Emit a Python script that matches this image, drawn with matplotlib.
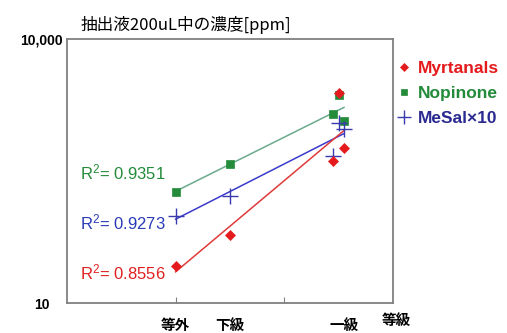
import matplotlib
matplotlib.use("Agg")
import matplotlib.pyplot as plt
import numpy as np

plt.rcParams['font.family'] = ['Liberation Sans', 'Noto Sans CJK JP', 'DejaVu Sans']
plt.rcParams['mathtext.fontset'] = 'custom'
plt.rcParams['mathtext.rm'] = 'Liberation Sans'
plt.rcParams['mathtext.it'] = 'Liberation Sans'

# sample positions along the grade axis (等外, 下級, 一級 x3)
sample_x = [1.0, 1.5, 2.45, 2.50, 2.55]
myrtanals = [26.5, 59, 411, 2434, 573]
nopinone = [184, 377, 1393, 2311, 1180]
mesal_x10 = [98, 166, 472, 1102, 942]

grade_labels = ['等外', '下級', '一級']
grade_label_x = [1.0, 1.5, 2.55]
r2_labels = ['0.9351', '0.9273', '0.8556']

red, green, blue = '#e41a1c', '#238b3a', '#3a3ab0'
line_cols = ['#6aaa8c', '#3a3acc', '#e03a3a']

fig = plt.figure(figsize=(5.07, 3.33), dpi=100)
ax = fig.add_axes([0.132, 0.090, 0.643, 0.793])
ax.set_yscale('log')
ax.set_ylim(10, 10000)
ax.set_xlim(0, 3)

series = [
    (nopinone, 's', green, 'Nopinone', 6),
    (mesal_x10, '+', blue, 'MeSal×10', 12),
    (myrtanals, 'D', red, 'Myrtanals', 4.8),
]

# exponential trendlines (linear fit on log10 values)
xs = np.array(sample_x)
xfit = np.linspace(1.0, 2.55, 50)
for (vals, _, _, _, _), lc in zip(series, line_cols):
    k, b = np.polyfit(xs, np.log10(vals), 1)
    ax.plot(xfit, 10 ** (k * xfit + b), color=lc, lw=1.1, zorder=2)

handles = {}
for vals, mk, col, name, ms in series:
    h, = ax.plot(sample_x, vals, linestyle='none', marker=mk, color=col,
                 markersize=ms, markeredgewidth=1.0 if mk == '+' else 0.5, zorder=3)
    handles[name] = h

for sp in ax.spines.values():
    sp.set_color('#808080')
    sp.set_linewidth(1.3)

ax.set_yticks([10, 10000])
ax.set_yticklabels(['10', '10,000'], fontsize=10, fontweight='bold')
ax.yaxis.set_minor_locator(matplotlib.ticker.NullLocator())
ax.tick_params(axis='y', length=0, pad=18)
for t in ax.get_yticklabels():
    t.set_horizontalalignment('center')

ax.set_xticks([1, 2])
ax.set_xticklabels([])
ax.tick_params(axis='x', direction='in', length=4, color='#808080')
for lab, gx in zip(grade_labels, grade_label_x):
    ax.text(gx, -0.085, lab, transform=ax.get_xaxis_transform(), ha='center', va='center',
            fontsize=10.5, fontweight='bold', family='Noto Sans CJK JP')
ax.text(3.03, -0.065, '等級', transform=ax.get_xaxis_transform(), ha='center', va='center',
        fontsize=10.5, fontweight='bold', family='Noto Sans CJK JP')

for (r2, col, yy) in zip(r2_labels, [green, '#2a3ab8', '#e02020'], [0.496, 0.307, 0.114]):
    ax.text(0.04, yy, r'R$^2$= ' + r2, transform=ax.transAxes, color=col,
            fontsize=12, ha='left', va='center')

fig.text(0.366, 0.925, '抽出液200uL中の濃度[ppm]', fontsize=12,
         family=['Noto Sans CJK JP'], ha='center', va='center')

leg = ax.legend([handles['Myrtanals'], handles['Nopinone'], handles['MeSal×10']],
                ['Myrtanals', 'Nopinone', 'MeSal×10'],
                loc='upper left', bbox_to_anchor=(0.769, 0.838), bbox_transform=fig.transFigure,
                frameon=False, handlelength=0.8, handletextpad=0.4, labelspacing=0.56,
                borderaxespad=0, markerscale=0.8, prop={'weight': 'bold', 'size': 12.5})
for t, c in zip(leg.get_texts(), [red, green, '#2a2a90']):
    t.set_color(c)

fig.savefig('out.png', dpi=100)
